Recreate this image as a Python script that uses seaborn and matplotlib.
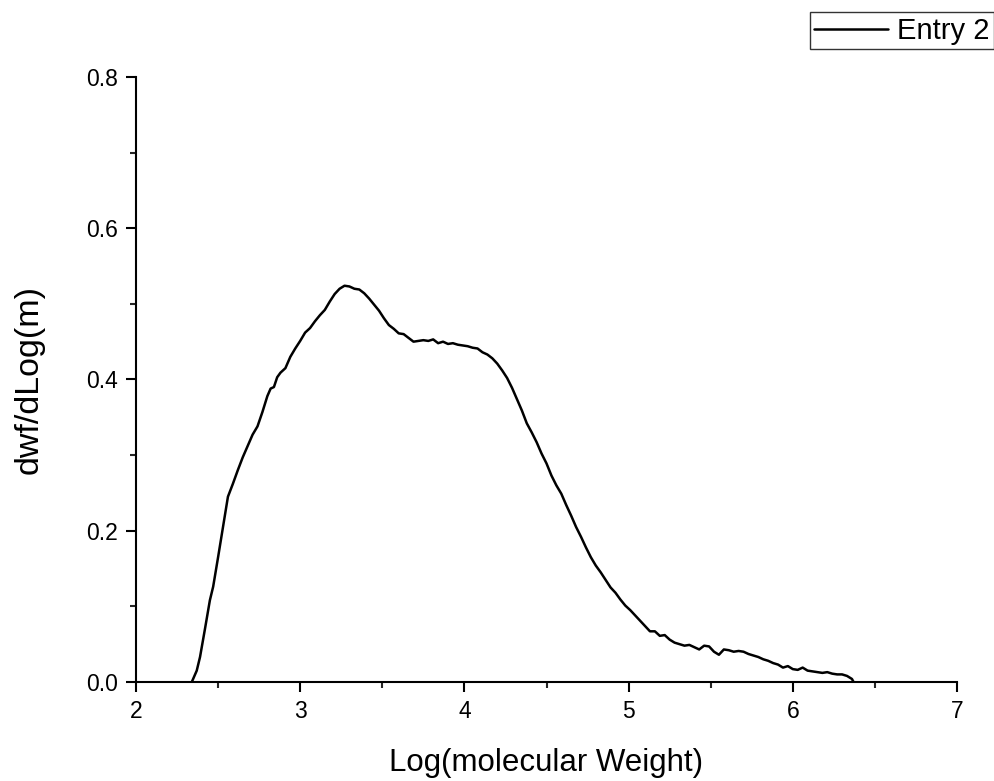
import matplotlib
matplotlib.use("Agg")
import matplotlib.pyplot as plt
import pandas as pd
import seaborn as sns
from matplotlib.ticker import MultipleLocator

# values
log_mw = [
    2.34, 2.37, 2.39, 2.42, 2.45, 2.47, 2.50, 2.53, 2.56, 2.59,
    2.62, 2.65, 2.68, 2.71, 2.74, 2.77, 2.80, 2.82, 2.84, 2.86,
    2.88, 2.91, 2.94, 2.97, 3.00, 3.03, 3.06, 3.09, 3.12, 3.15,
    3.18, 3.21, 3.24, 3.27, 3.30, 3.33, 3.36, 3.39, 3.42, 3.45,
    3.48, 3.51, 3.54, 3.57, 3.60, 3.63, 3.66, 3.69, 3.72, 3.75,
    3.78, 3.81, 3.84, 3.87, 3.90, 3.93, 3.96, 3.99, 4.02, 4.05,
    4.08, 4.11, 4.14, 4.17, 4.20, 4.23, 4.26, 4.29, 4.32, 4.35,
    4.38, 4.41, 4.44, 4.47, 4.50, 4.53, 4.56, 4.59, 4.62, 4.65,
    4.68, 4.71, 4.74, 4.77, 4.80, 4.83, 4.86, 4.89, 4.92, 4.95,
    4.98, 5.01, 5.04, 5.07, 5.10, 5.13, 5.16, 5.19, 5.22, 5.25,
    5.28, 5.31, 5.34, 5.37, 5.40, 5.43, 5.46, 5.49, 5.52, 5.55,
    5.58, 5.61, 5.64, 5.67, 5.70, 5.73, 5.76, 5.79, 5.82, 5.85,
    5.88, 5.91, 5.94, 5.97, 6.00, 6.03, 6.06, 6.09, 6.12, 6.15,
    6.18, 6.21, 6.24, 6.27, 6.30, 6.33, 6.36, 6.37,
]
dwf = [
    0.000, 0.015, 0.033, 0.070, 0.108, 0.126, 0.165, 0.205, 0.245, 0.262,
    0.280, 0.297, 0.312, 0.327, 0.338, 0.357, 0.378, 0.388, 0.390, 0.403,
    0.409, 0.415, 0.430, 0.441, 0.451, 0.462, 0.468, 0.477, 0.485, 0.492,
    0.503, 0.513, 0.520, 0.524, 0.523, 0.520, 0.519, 0.514, 0.507, 0.499,
    0.491, 0.481, 0.472, 0.467, 0.461, 0.460, 0.455, 0.450, 0.451, 0.452,
    0.451, 0.453, 0.448, 0.450, 0.447, 0.448, 0.446, 0.445, 0.444, 0.442,
    0.441, 0.436, 0.433, 0.428, 0.421, 0.412, 0.402, 0.389, 0.374, 0.359,
    0.342, 0.330, 0.317, 0.302, 0.289, 0.273, 0.260, 0.249, 0.234, 0.220,
    0.205, 0.192, 0.178, 0.165, 0.154, 0.145, 0.135, 0.125, 0.118, 0.109,
    0.101, 0.095, 0.088, 0.081, 0.074, 0.067, 0.067, 0.061, 0.062, 0.056,
    0.052, 0.050, 0.048, 0.049, 0.046, 0.043, 0.048, 0.047, 0.040, 0.036,
    0.043, 0.042, 0.040, 0.041, 0.040, 0.037, 0.035, 0.033, 0.030, 0.028,
    0.025, 0.023, 0.019, 0.021, 0.017, 0.016, 0.019, 0.015, 0.014, 0.013,
    0.012, 0.013, 0.011, 0.010, 0.010, 0.008, 0.004, 0.000,
]
series_label = "Entry 2"

sns.set_style("ticks")
plt.rcParams["font.family"] = ["Liberation Sans", "DejaVu Sans"]
plt.rcParams["text.color"] = "black"
plt.rcParams["axes.labelcolor"] = "black"

data = pd.DataFrame({"log_mw": log_mw, "dwf": dwf, "series": series_label})

fig = plt.figure(figsize=(9.94, 7.81), dpi=100)
ax = fig.add_axes([0.1368, 0.1268, 0.8260, 0.7746])
sns.lineplot(data=data, x="log_mw", y="dwf", hue="series", palette=["black"],
             linewidth=1.8, sort=False, ax=ax, legend=False)
ax.plot([], [], color="black", linewidth=1.8, label=series_label)

ax.set_xlim(2, 7)
ax.set_ylim(0, 0.8)
ax.xaxis.set_major_locator(MultipleLocator(1))
ax.xaxis.set_minor_locator(MultipleLocator(0.5))
ax.yaxis.set_major_locator(MultipleLocator(0.2))
ax.yaxis.set_minor_locator(MultipleLocator(0.1))
ax.set_xticks([2, 3, 4, 5, 6, 7])
ax.set_yticks([0.0, 0.2, 0.4, 0.6, 0.8])
ax.set_yticklabels(["0.0", "0.2", "0.4", "0.6", "0.8"])
ax.tick_params(which="major", direction="out", length=7, width=1.5,
               labelsize=16.5, colors="black", pad=6)
ax.tick_params(which="minor", direction="out", length=4, width=1.5)
for side in ["top", "right"]:
    ax.spines[side].set_visible(False)
for side in ["left", "bottom"]:
    ax.spines[side].set_linewidth(1.5)
    ax.spines[side].set_color("black")

ax.set_xlabel("Log(molecular Weight)", fontsize=22.5, labelpad=18, color="black")
ax.set_ylabel("dwf/dLog(m)", fontsize=24.5, labelpad=30, color="black")

leg = fig.legend(loc="upper right", bbox_to_anchor=(1.0, 0.984), fontsize=21,
                 frameon=True, fancybox=False, handlelength=2.55,
                 handletextpad=0.3, borderpad=0.15, borderaxespad=0.0)
leg.get_frame().set_edgecolor("black")
leg.get_frame().set_linewidth(1.0)
for text in leg.get_texts():
    text.set_color("black")

fig.savefig("out.png", dpi=100)
